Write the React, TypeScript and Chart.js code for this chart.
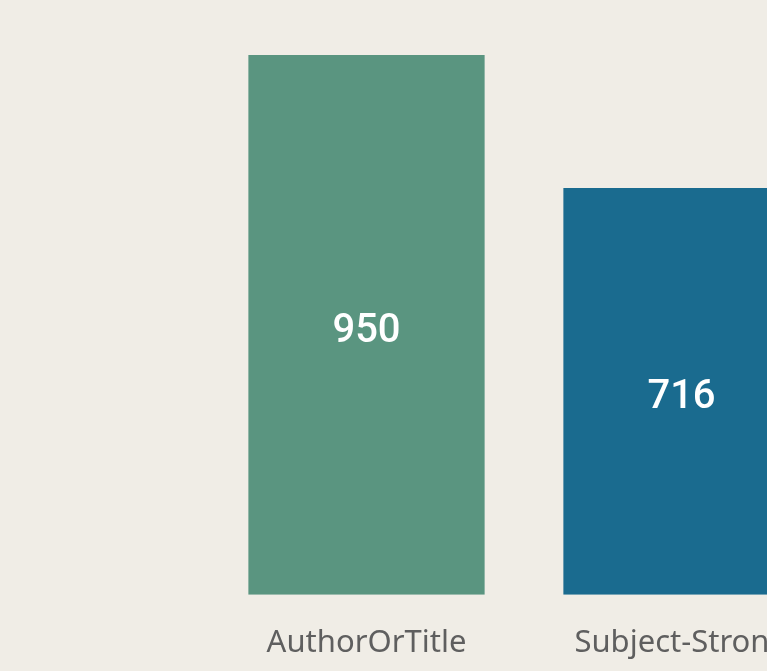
import React, { useEffect, useRef } from "react";
import { Chart, registerables } from "chart.js";

Chart.register(...registerables);

const categories = ["AuthorOrTitle", "Subject-Strong"];
const values = [950, 716];
const barColors = ["#5a9580", "#1a6b8f"];

const valueLabelPlugin = {
  id: "valueLabels",
  afterDatasetsDraw(chart: any) {
    const { ctx } = chart;
    const meta = chart.getDatasetMeta(0);
    ctx.save();
    ctx.fillStyle = "#ffffff";
    ctx.font = "500 40px Roboto";
    ctx.textAlign = "center";
    ctx.textBaseline = "alphabetic";
    meta.data.forEach((bar: any, i: number) => {
      const y = (bar.y + bar.base) / 2 + 17;
      ctx.fillText(String(values[i]), bar.x, y);
    });
    ctx.restore();
  },
};

export default function App() {
  const ref = useRef<HTMLCanvasElement>(null);
  useEffect(() => {
    if (!ref.current) return;
    const chart = new Chart(ref.current, {
      type: "bar",
      data: {
        labels: categories,
        datasets: [
          {
            data: values,
            backgroundColor: barColors,
            barPercentage: 0.75,
            categoryPercentage: 1,
          },
        ],
      },
      options: {
        responsive: false,
        animation: false,
        layout: { padding: { left: 209, right: 1, top: 55, bottom: 19 } },
        plugins: { legend: { display: false }, tooltip: { enabled: false } },
        scales: {
          y: { display: false, min: 0, max: 950 },
          x: {
            grid: { display: false },
            border: { display: false },
            ticks: {
              color: "#5f5f5f",
              font: { family: "'Noto Sans'", size: 31 },
              padding: 22,
              maxRotation: 0,
              autoSkip: false,
            },
          },
        },
      },
      plugins: [valueLabelPlugin],
    });
    return () => chart.destroy();
  }, []);
  return (
    <div
      style={{
        position: "fixed",
        left: 0,
        top: 0,
        width: 767,
        height: 671,
        overflow: "hidden",
        background: "#f0ede6",
      }}
    >
      <canvas ref={ref} width={840} height={703} style={{ display: "block" }} />
    </div>
  );
}
